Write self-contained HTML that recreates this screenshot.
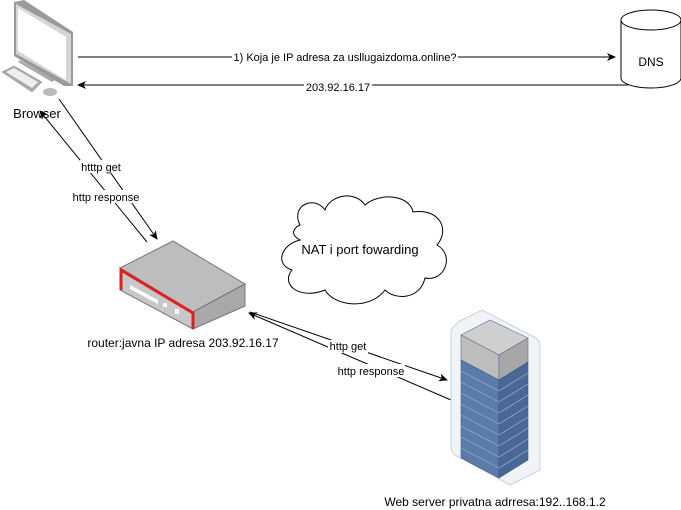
<!DOCTYPE html>
<html><head><meta charset="utf-8"><style>body{margin:0;background:#fff}svg{display:block}text{font-family:"Liberation Sans",sans-serif;font-size:11px;fill:#000}</style></head><body>
<svg width="681" height="510" viewBox="0 0 681 510" xmlns="http://www.w3.org/2000/svg">
<defs><marker id="a" markerWidth="10" markerHeight="10" refX="8" refY="4" orient="auto" markerUnits="userSpaceOnUse"><path d="M0,0 L9,4 L0,8 L2.5,4 Z" fill="#000"/></marker></defs>
<!-- computer -->
<polygon points="14,2 24,0 73,32 73,86 64,86 14,56" fill="#9a9a9a"/>
<polygon points="16,4 71,34 71,84 16,54" fill="#d6d6d6"/>
<polygon points="18,8 66,37 66,80 18,51" fill="#fff"/>
<polygon points="20,60 55,80 52,82 18,62" fill="#aaa"/>
<polygon points="2,72 14,66 42,82 32,92" fill="#aaa" stroke="#888" stroke-width="0.5"/>
<polygon points="6,72 14,68 38,82 32,88" fill="#eee"/>
<ellipse cx="50" cy="92" rx="7" ry="4" fill="#bbb"/>
<text x="37" y="118" text-anchor="middle" style="font-size:13px">Browser</text>
<!-- DNS -->
<path d="M621,20 L621,78 A30,10 0 0 0 681,78 L681,20" fill="#fff" stroke="#000"/>
<ellipse cx="651" cy="20" rx="30" ry="10" fill="#fff" stroke="#000"/>
<text x="651" y="66" text-anchor="middle" style="font-size:12px">DNS</text>
<!-- arrows top -->
<line x1="78" y1="57" x2="615" y2="57" stroke="#000" marker-end="url(#a)"/>
<rect x="232" y="51" width="226" height="13" fill="#fff"/>
<text x="345" y="61" text-anchor="middle">1) Koja je IP adresa za usllugaizdoma.online?</text>
<polyline points="628,84 628,85 78,85" fill="none" stroke="#000" marker-end="url(#a)"/>
<rect x="304" y="81" width="68" height="12" fill="#fff"/>
<text x="338" y="91" text-anchor="middle">203.92.16.17</text>
<!-- browser-router -->
<line x1="59" y1="99" x2="157" y2="239" stroke="#000" marker-end="url(#a)"/>
<line x1="147" y1="242" x2="40" y2="111" stroke="#000" marker-end="url(#a)"/>
<rect x="80" y="160" width="42" height="13" fill="#fff"/>
<text x="101" y="171" text-anchor="middle">htttp get</text>
<rect x="72" y="190" width="68" height="13" fill="#fff"/>
<text x="106" y="201" text-anchor="middle">http response</text>
<!-- router -->
<polygon points="120,268 173,241 245,284 193,312" fill="#bdbdbd" stroke="#777"/>
<polygon points="120,268 193,312 193,329 120,290" fill="#c8c8c8" stroke="#777"/>
<polygon points="193,312 245,284 245,306 193,329" fill="#a9a9a9" stroke="#777"/>
<polyline points="121,290 121,270 193,313 193,329" fill="none" stroke="#e02020" stroke-width="3"/>
<polygon points="130,285 158,300 158,304 130,289" fill="#fff"/>
<rect x="163" y="303" width="4" height="4" fill="#fff"/><rect x="175" y="309" width="4" height="5" fill="#fff"/>
<text x="183" y="347" text-anchor="middle" style="font-size:12px">router:javna IP adresa 203.92.16.17</text>
<!-- cloud -->
<path d="M300,225 C290,205 315,195 325,210 C330,195 355,190 365,205 C380,192 410,195 413,212 C440,208 450,230 437,245 C455,255 445,282 425,278 C420,300 395,300 385,290 C370,310 335,307 325,290 C300,300 280,285 292,270 C275,265 280,245 300,240 C290,235 293,228 300,225 Z" fill="#fff" stroke="#000"/>
<text x="360" y="254" text-anchor="middle" style="font-size:13px">NAT i port fowarding</text>
<!-- router-server -->
<line x1="250" y1="312" x2="447" y2="380" stroke="#000" marker-end="url(#a)"/>
<line x1="451" y1="400" x2="249" y2="313" stroke="#000" marker-end="url(#a)"/>
<rect x="328" y="340" width="40" height="13" fill="#fff"/>
<text x="348" y="350" text-anchor="middle">http get</text>
<rect x="337" y="364" width="68" height="13" fill="#fff"/>
<text x="371" y="375" text-anchor="middle">http response</text>
<!-- server -->
<path d="M458,322 L482,310 L534,337 Q540,340 540,346 L540,470 L510,485 L455,455 Q451,452 451,446 L451,330 Z" fill="#f1f3f7" stroke="#c8d2e0"/>
<g stroke="#5a6f8a" stroke-width="0.6">
<polygon points="461,335 490,320 528,338 499,355" fill="#cfcfcf"/>
<polygon points="461,335 499,355 499,380 461,360" fill="#bdbdbd"/>
<polygon points="499,355 528,338 528,362 499,380" fill="#a8a8a8"/>
</g>
<g fill="#5b7bab" stroke="#3e5a85" stroke-width="0.6">
<polygon points="461,360 499,380 499,478 461,458"/>
<polygon points="499,380 528,362 528,460 499,478" fill="#4a6896"/>
</g>
<g stroke="#9fb2cf" stroke-width="0.7">
<line x1="461" y1="371" x2="499" y2="391"/><line x1="461" y1="382" x2="499" y2="402"/><line x1="461" y1="393" x2="499" y2="413"/><line x1="461" y1="404" x2="499" y2="424"/><line x1="461" y1="415" x2="499" y2="435"/><line x1="461" y1="426" x2="499" y2="446"/><line x1="461" y1="437" x2="499" y2="457"/><line x1="461" y1="448" x2="499" y2="468"/>
<line x1="499" y1="391" x2="528" y2="373"/><line x1="499" y1="402" x2="528" y2="384"/><line x1="499" y1="413" x2="528" y2="395"/><line x1="499" y1="424" x2="528" y2="406"/><line x1="499" y1="435" x2="528" y2="417"/><line x1="499" y1="446" x2="528" y2="428"/><line x1="499" y1="457" x2="528" y2="439"/><line x1="499" y1="468" x2="528" y2="450"/>
</g>
<text x="495" y="506" text-anchor="middle" style="font-size:12px">Web server privatna adrresa:192..168.1.2</text>
</svg>
</body></html>
